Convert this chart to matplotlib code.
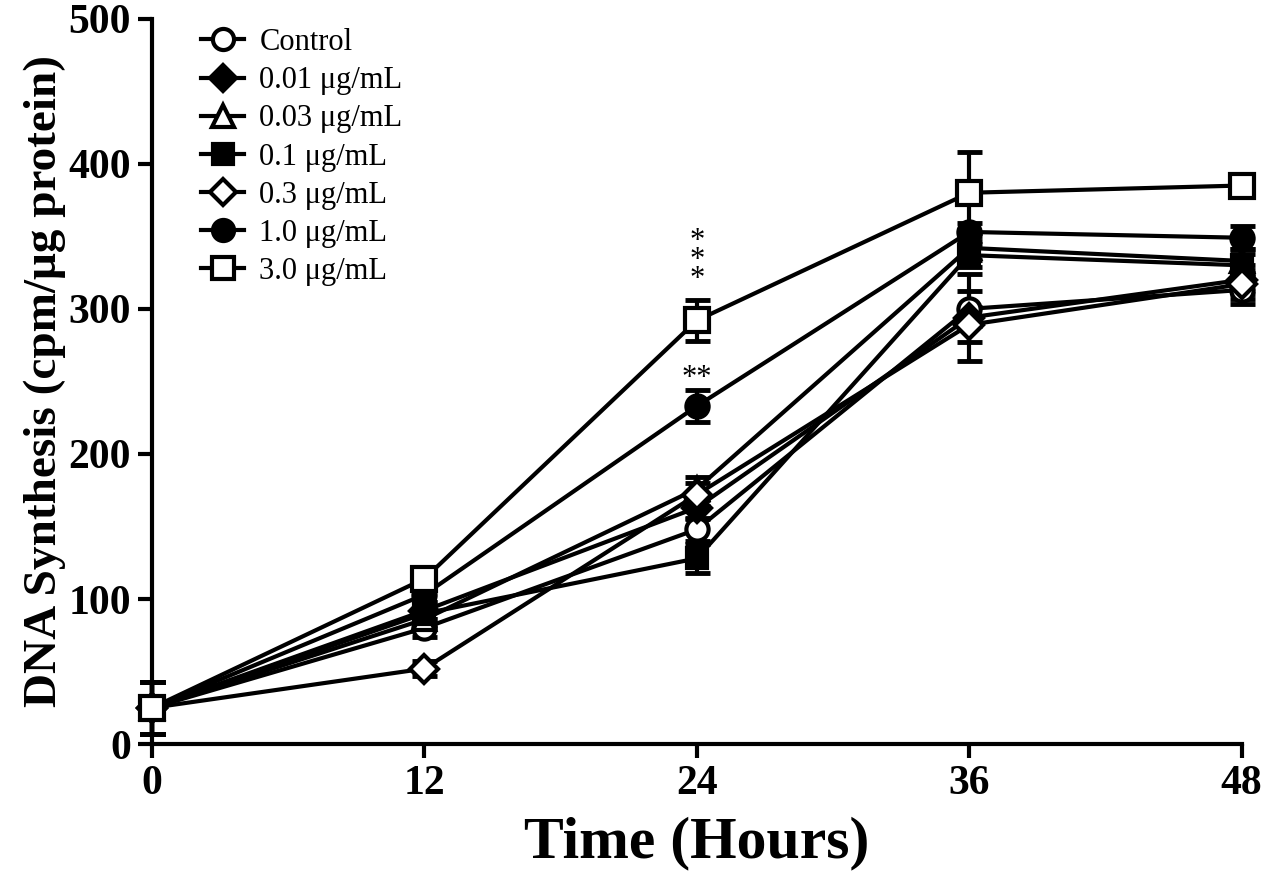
import matplotlib
matplotlib.use("Agg")
import matplotlib.pyplot as plt

plt.rcParams['font.family'] = ['Liberation Serif', 'DejaVu Serif']

# time points (hours)
hours = [0, 12, 24, 36, 48]

labels = ["Control", "0.01 \u03bcg/mL", "0.03 \u03bcg/mL", "0.1 \u03bcg/mL",
          "0.3 \u03bcg/mL", "1.0 \u03bcg/mL", "3.0 \u03bcg/mL"]

# DNA synthesis means per group
control = [25, 80, 148, 300, 313]
c001 = [25, 92, 163, 294, 320]
c003 = [25, 86, 176, 342, 333]
c01 = [25, 90, 128, 337, 330]
c03 = [25, 52, 172, 289, 317]
c10 = [25, 103, 233, 353, 349]
c30 = [25, 114, 292, 380, 385]

# SEM per group
err_control = [18, 6, 8, 12, 10]
err_c001 = [18, 6, 8, 30, 10]
err_c003 = [18, 6, 8, 8, 8]
err_c01 = [18, 8, 10, 8, 8]
err_c03 = [18, 5, 8, 12, 10]
err_c10 = [18, 8, 11, 6, 8]
err_c30 = [18, 6, 14, 28, 6]

means = [control, c001, c003, c01, c03, c10, c30]
errs = [err_control, err_c001, err_c003, err_c01, err_c03, err_c10, err_c30]
markers = ['o', 'D', '^', 's', 'D', 'o', 's']
fills = ['white', 'black', 'white', 'black', 'white', 'black', 'white']
sizes = [16, 14, 16, 15, 14, 16, 17]

fig = plt.figure(figsize=(12.67, 8.89), dpi=100)
ax = fig.add_axes([0.120, 0.163, 0.860, 0.816])

handles = []
for m, e, mk, fc, ms, lab in zip(means, errs, markers, fills, sizes, labels):
    ax.errorbar(hours, m, yerr=e, fmt='none', ecolor='black', elinewidth=3,
                capsize=9, capthick=3.5, clip_on=False, zorder=2)
    h, = ax.plot(hours, m, color='black', lw=3, marker=mk, ms=ms,
                 mfc=fc, mec='black', mew=3, label=lab, clip_on=False, zorder=3)
    handles.append(h)

# significance marks
ax.text(24, 310, "*\n*\n*", ha='center', va='bottom', fontsize=22, linespacing=0.55)
ax.text(24, 242, "**", ha='center', va='bottom', fontsize=22)

ax.set_xlim(0, 48)
ax.set_ylim(0, 500)
ax.set_xticks(hours)
ax.set_yticks([0, 100, 200, 300, 400, 500])
ax.spines['top'].set_visible(False)
ax.spines['right'].set_visible(False)
ax.spines['left'].set_linewidth(3)
ax.spines['bottom'].set_linewidth(3)
ax.tick_params(direction='out', length=10, width=3, labelsize=30, pad=5)
for t in ax.get_xticklabels() + ax.get_yticklabels():
    t.set_fontweight('bold')

ax.set_xlabel("Time (Hours)", fontsize=43, fontweight='bold', labelpad=10)
ax.set_ylabel("DNA Synthesis (cpm/\u03bcg protein)", fontsize=34, fontweight='bold', labelpad=2)

ax.legend(handles=handles, loc='upper left', bbox_to_anchor=(0.02, 1.025), frameon=False,
          fontsize=22, handlelength=1.4, handletextpad=0.5, labelspacing=0.3,
          markerscale=0.95)

fig.savefig("out.png", dpi=100)
